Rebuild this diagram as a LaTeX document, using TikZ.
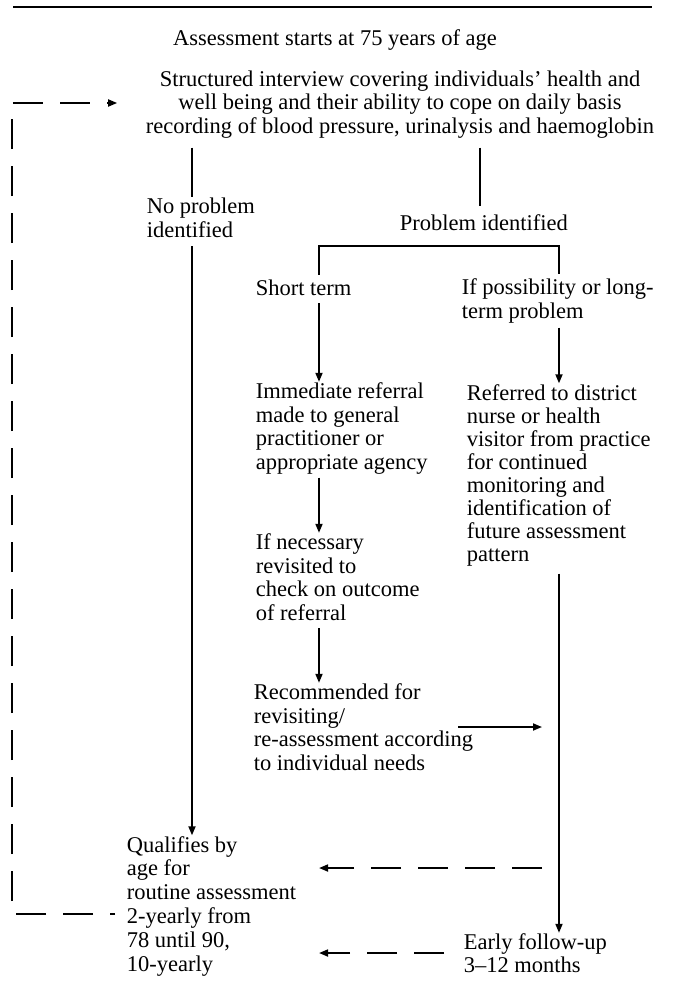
\documentclass[tikz,border=0pt]{standalone}
\usepackage{fontspec}
\setmainfont{Liberation Serif}
\usetikzlibrary{arrows.meta}
\tikzset{
  txt/.style={inner sep=0pt, anchor=base west, align=left, font=\fontsize{22.5}{23.5}\selectfont},
  dsh/.style={dash pattern=on 30pt off 17pt},
}
\begin{document}
\begin{tikzpicture}[x=1pt,y=-1pt,line width=1.7pt,>={Triangle[length=9pt,width=7pt]}]
        \useasboundingbox (0,0) rectangle (677,999);
        \draw[line width=2.2pt] (13,7) -- (652,7);

        % multi-line nodes sit on the baseline of their last line
        \node[txt,anchor=base] (A) at (335,45) {Assessment starts at 75 years of age};
        \node[txt,anchor=base,align=center] (B) at (400,133) {Structured interview covering individuals' health and\\well being and their ability to cope on daily basis\\recording of blood pressure, urinalysis and haemoglobin};
        \node[txt] (C) at (146,237) {No problem\\identified};
        \node[txt] (D) at (399,230) {Problem identified};
        \node[txt] (E) at (255,295) {Short term};
        \node[txt] (F) at (461,318) {If possibility or long-\\term problem};
        \node[txt] (G) at (255,469) {Immediate referral\\made to general\\practitioner or\\appropriate agency};
        \node[txt,font=\fontsize{22.5}{23}\selectfont] (H) at (466,561) {Referred to district\\nurse or health\\visitor from practice\\for continued\\monitoring and\\identification of\\future assessment\\pattern};
        \node[txt] (I) at (255,620) {If necessary\\revisited to\\check on outcome\\of referral};
        \node[txt] (J) at (253,770) {Recommended for\\revisiting/\\re-assessment according\\to individual needs};
        \node[txt,font=\fontsize{22.5}{23.8}\selectfont] (K) at (126,971) {Qualifies by\\age for\\routine assessment\\2-yearly from\\78 until 90,\\10-yearly};
        \node[txt,font=\fontsize{22.5}{22.5}\selectfont] (L) at (463,972) {Early follow-up\\3--12 months};

        \coordinate (nx) at (192,0);
        \coordinate (px) at (480,0);
        \coordinate (sx) at (319,0);
        \coordinate (lx) at (559,0);
        \coordinate (bar) at (440,246);
        \coordinate (lp) at (12,914);
        \coordinate (lt) at (12,103);
        \coordinate (d1) at (542,868);
        \coordinate (d2) at (444,953);

        \draw[shorten <=9pt] (B.south -| nx) -- (C.north -| nx);
        \draw[->,shorten <=8pt] (C.south -| nx) -- (K.north -| nx);
        \draw[shorten <=9pt,shorten >=7pt] (B.south -| px) -- (D.north -| px);
        \draw[shorten <=4pt,shorten >=4pt] (E.north -| sx) |- (bar) -| (F.north -| lx);
        \draw[->,shorten <=7pt] (E.south -| sx) -- (G.north -| sx);
        \draw[->,shorten <=4pt] (F.south -| lx) -- (H.north -| lx);
        \draw[->,shorten <=3pt] (G.south -| sx) -- (I.north -| sx);
        \draw[->,shorten <=7pt] (I.south -| sx) -- (J.north -| sx);
        \draw[->] (J.base west) ++(205,-43) -- ++(84,0);
        \draw[->,shorten <=7pt] (H.south -| lx) -- (L.north -| lx);

        % dashed return paths
        \draw[dsh,->,shorten >=22pt] (d1) -- (d1 -| K.east);
        \draw[dsh,->,shorten >=22pt] (d2) -- (d2 -| K.east);
        \draw[dsh,dash phase=25pt,->,shorten <=11pt,shorten >=28pt] (K.west |- lp) -- (lp) -- (lt) -- (lt -| B.west);
      \end{tikzpicture}
\end{document}
